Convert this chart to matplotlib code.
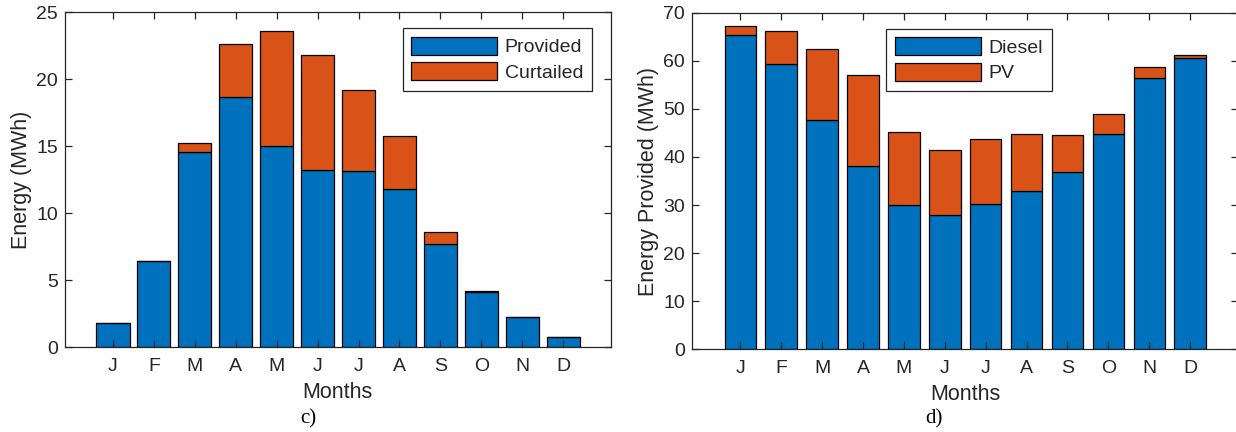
"""Monthly PV energy split (provided vs curtailed) and supply mix (diesel vs PV)."""

import matplotlib

matplotlib.use("Agg")
import matplotlib.pyplot as plt
import numpy as np

months = ["J", "F", "M", "A", "M", "J", "J", "A", "S", "O", "N", "D"]

# panel c: PV energy, MWh
pv_provided = [1.84, 6.45, 14.57, 18.68, 14.99, 13.25, 13.15, 11.85, 7.72, 4.16, 2.29, 0.80]
pv_curtailed = [0.0, 0.0, 0.69, 3.95, 8.64, 8.54, 6.05, 3.94, 0.85, 0.07, 0.0, 0.0]

# panel d: energy provided to the load, MWh
diesel = [65.4, 59.4, 47.6, 38.1, 30.0, 28.0, 30.3, 32.9, 36.8, 44.8, 56.4, 60.5]
pv_share = [1.9, 6.7, 14.8, 18.9, 15.1, 13.4, 13.4, 11.9, 7.7, 4.2, 2.3, 0.8]

BLUE = "#0072BD"
ORANGE = "#D95319"
INK = "#262626"

plt.rcParams["font.family"] = ["Liberation Sans", "DejaVu Sans"]

W, H = 1236, 432
fig = plt.figure(figsize=(W / 100, H / 100), dpi=100)


def px_axes(left, top, right, bottom):
    return fig.add_axes([left / W, 1 - bottom / H, (right - left) / W, (bottom - top) / H])


def style_axes(ax, ymax, ystep, ylabel):
    x = np.arange(1, len(months) + 1)
    ax.set_xlim(-0.18, 13.17)
    ax.set_ylim(0, ymax)
    ax.set_xticks(x)
    ax.set_xticklabels(months)
    ax.set_yticks(np.arange(0, ymax + 0.1, ystep))
    ax.tick_params(direction="in", top=True, right=True, length=5, width=0.9,
                   colors=INK, labelsize=14)
    ax.tick_params(axis="x", pad=8)
    ax.tick_params(axis="y", pad=5)
    for sp in ax.spines.values():
        sp.set_color(INK)
        sp.set_linewidth(0.9)
    ax.set_xlabel("Months", fontsize=15.5, color=INK, labelpad=5)
    ax.set_ylabel(ylabel, fontsize=15.5, color=INK, labelpad=3)


def legend(ax, **kw):
    leg = ax.legend(fontsize=14, fancybox=False, framealpha=1, edgecolor=INK,
                    handlelength=4.4, handleheight=1.05, handletextpad=0.4,
                    labelspacing=0.3, borderpad=0.45, borderaxespad=0, **kw)
    leg.get_frame().set_linewidth(0.9)
    for t in leg.get_texts():
        t.set_color(INK)
    return leg


x = np.arange(1, len(months) + 1)

# c) curtailment
ax1 = px_axes(64.7, 12.3, 611, 347.3)
ax1.bar(x, pv_provided, width=0.81, color=BLUE, edgecolor="black", linewidth=0.9, label="Provided")
ax1.bar(x, pv_curtailed, width=0.81, bottom=pv_provided, color=ORANGE, edgecolor="black",
        linewidth=0.9, label="Curtailed")
style_axes(ax1, 25, 5, "Energy (MWh)")
legend(ax1, loc="upper right", bbox_to_anchor=(0.965, 0.953))

# d) supply mix
ax2 = px_axes(692, 12.7, 1238, 349.3)
ax2.bar(x, diesel, width=0.77, color=BLUE, edgecolor="black", linewidth=0.9, label="Diesel")
ax2.bar(x, pv_share, width=0.77, bottom=diesel, color=ORANGE, edgecolor="black",
        linewidth=0.9, label="PV")
style_axes(ax2, 70, 10, "Energy Provided (MWh)")
legend(ax2, loc="upper left", bbox_to_anchor=(0.356, 0.953))

for label, xc in (("c)", 308), ("d)", 934)):
    fig.text(xc / W, 1 - 419 / H, label, ha="center", va="center",
             fontsize=15, family=["Liberation Serif", "DejaVu Serif"], color="black")

fig.savefig("out.png", dpi=100)
